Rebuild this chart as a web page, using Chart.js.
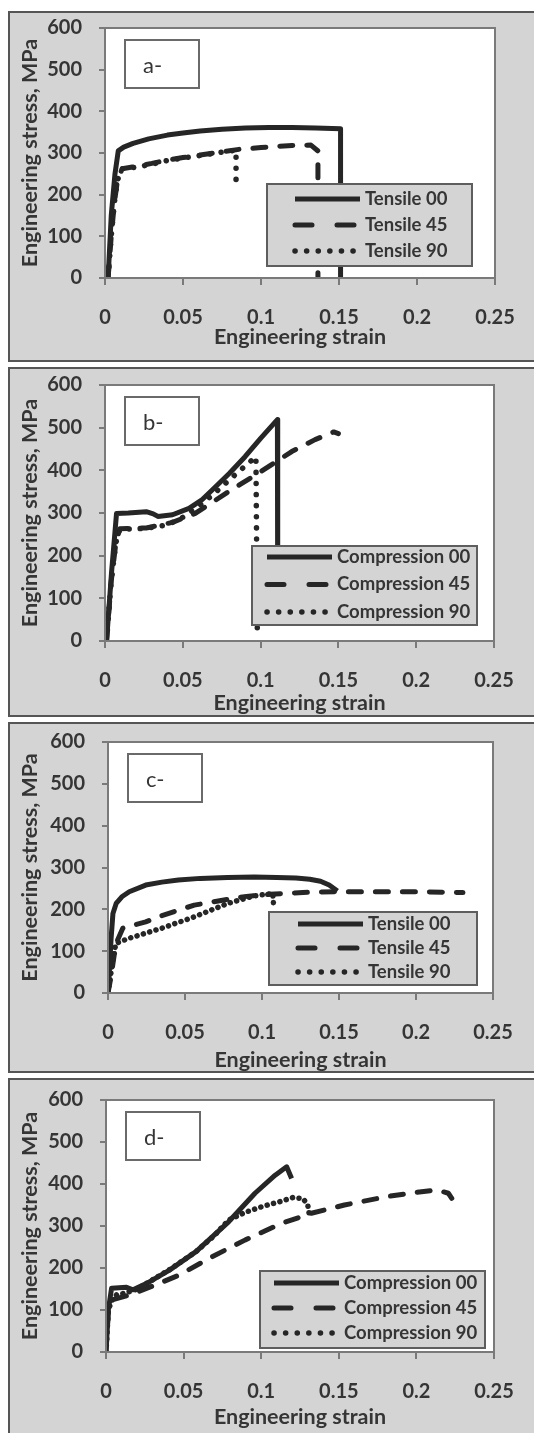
<!DOCTYPE html>
<html>
<head>
<meta charset="utf-8">
<script src="https://cdn.jsdelivr.net/npm/chart.js@4.4.1/dist/chart.umd.min.js"></script>
<style>
  body { margin: 0; width: 534px; height: 1433px; overflow: hidden; position: relative; background: #fff; }
  .panel { position: absolute; left: 8px; width: 540px; background: #d4d4d4; border: 2px solid #555; box-sizing: border-box; }
  .wrap { position: absolute; left: 0; width: 534px; }
</style>
</head>
<body>
<div class="panel" style="top:11px;height:351px"></div>
<div class="panel" style="top:367px;height:350px"></div>
<div class="panel" style="top:722px;height:351px"></div>
<div class="panel" style="top:1078px;height:362px"></div>
<div class="wrap" style="top:11px;height:351px"><canvas id="pa" width="534" height="351"></canvas></div>
<div class="wrap" style="top:367px;height:350px"><canvas id="pb" width="534" height="350"></canvas></div>
<div class="wrap" style="top:722px;height:351px"><canvas id="pc" width="534" height="351"></canvas></div>
<div class="wrap" style="top:1078px;height:355px"><canvas id="pd" width="534" height="355"></canvas></div>
<script>
// ---- data: [strain, stress MPa] ----
const tensileLabels = ['Tensile 00', 'Tensile 45', 'Tensile 90'];
const compressionLabels = ['Compression 00', 'Compression 45', 'Compression 90'];
const panelTags = ['a-', 'b-', 'c-', 'd-'];
const xTickLabels = ['0', '0.05', '0.1', '0.15', '0.2', '0.25'];
const yTickLabels = ['0', '100', '200', '300', '400', '500', '600'];

// a- tensile
const a00 = [[0.002,0],[0.004,150],[0.0064,250],[0.0085,305],[0.012,314],[0.018,323],[0.028,334],[0.04,343],[0.05,348],[0.061,353],[0.075,357],[0.09,360],[0.105,361],[0.12,361],[0.135,360],[0.151,358],[0.151,0]];
const a45 = [[0.002,0],[0.004,100],[0.006,180],[0.008,235],[0.011,262],[0.02,268],[0.03,275],[0.04,283],[0.05,289],[0.061,295],[0.075,303],[0.0865,309],[0.1,313],[0.11,316],[0.12,318],[0.132,319],[0.1365,305],[0.1365,0]];
const a90 = [[0.002,0],[0.004,100],[0.006,180],[0.008,235],[0.011,262],[0.02,266],[0.03,273],[0.04,282],[0.05,288],[0.061,294],[0.075,302],[0.084,307],[0.084,225]];

// b- compression
const b00 = [[0.001,0],[0.0042,161],[0.0064,255],[0.0074,299],[0.015,300],[0.0265,303],[0.031,298],[0.034,292],[0.0434,296],[0.054,311],[0.062,330],[0.0689,354],[0.08,393],[0.09,432],[0.1,475],[0.1108,519],[0.111,60]];
const b45 = [[0.001,0],[0.004,140],[0.007,230],[0.0095,263],[0.0265,265],[0.0434,278],[0.058,299],[0.0794,350],[0.0985,393],[0.12,444],[0.135,472],[0.147,490],[0.15,486]];
const b90 = [[0.001,0],[0.004,140],[0.007,230],[0.0095,262],[0.0265,264],[0.04,272],[0.05,290],[0.06,315],[0.07,345],[0.08,378],[0.09,410],[0.097,432],[0.0979,15]];

// c- tensile
const c00 = [[0,0],[0.001,60],[0.002,130],[0.0032,190],[0.0053,214],[0.009,230],[0.0138,242],[0.0245,258],[0.035,265],[0.0457,270],[0.06,274],[0.0777,276],[0.095,277],[0.1096,276],[0.122,275],[0.131,272],[0.138,267],[0.1436,258],[0.149,244]];
const c45 = [[0,0],[0.002,40],[0.004,90],[0.006,125],[0.0096,155],[0.0245,170],[0.035,185],[0.0457,198],[0.056,210],[0.0777,224],[0.09,231],[0.105,236],[0.131,241],[0.149,242],[0.173,242],[0.205,242],[0.2305,240]];
const c90 = [[0,0],[0.002,50],[0.004,100],[0.0053,119],[0.0138,131],[0.035,155],[0.056,182],[0.0777,214],[0.0947,232],[0.107,238],[0.1075,210]];

// d- compression
const d00 = [[0,0],[0.0015,100],[0.0036,152],[0.0132,154],[0.0174,148],[0.026,163],[0.0409,195],[0.058,239],[0.079,310],[0.096,378],[0.109,421],[0.1164,441],[0.1196,413]];
const d45 = [[0,0],[0.0015,100],[0.005,125],[0.0153,136],[0.03,157],[0.047,183],[0.0685,227],[0.0898,267],[0.113,306],[0.132,330],[0.1536,350],[0.181,370],[0.2,380],[0.213,386],[0.2206,378],[0.2228,366]];
const d90 = [[0,0],[0.0015,100],[0.004,125],[0.0068,136],[0.012,140],[0.02,150],[0.03,172],[0.0409,196],[0.058,239],[0.07,278],[0.079,314],[0.09,333],[0.1004,346],[0.112,358],[0.1207,368],[0.127,365],[0.13,350],[0.1312,322]];

const INK = '#262626';
const TEXT = '#353535';
const AXIS = '#7a7a7a';
const FONT = 'Lato, "Open Sans", sans-serif';
const TITLE_SIZE = 21.5;

// page layout of each panel (canvas top/height, plot rect, x-title centre, legend box)
const panels = [
  { id: 'pa', top: 11,   height: 351, area: [105, 28, 495, 278],     titleY: 337,  labels: tensileLabels,     series: [a00, a45, a90], dot: [0.1, 11],
    legend: { dx: 162, dy: 156, w: 205, h: 82, inset: 28, first: 15, gap: 26 } },
  { id: 'pb', top: 367,  height: 350, area: [105, 385, 494, 641],    titleY: 703,  labels: compressionLabels, series: [b00, b45, b90], dot: [0.1, 11],
    legend: { dx: 147, dy: 161, w: 225, h: 79, inset: 15, first: 11, gap: 27.5 } },
  { id: 'pc', top: 722,  height: 351, area: [108, 742, 493, 993],    titleY: 1060, labels: tensileLabels,     series: [c00, c45, c90], dot: [0.1, 6.5],
    legend: { dx: 161, dy: 170, w: 208, h: 73, inset: 29, first: 12, gap: 24 } },
  { id: 'pd', top: 1078, height: 355, area: [106, 1100, 494, 1352],  titleY: 1417, labels: compressionLabels, series: [d00, d45, d90], dot: [0.1, 6.5],
    legend: { dx: 154, dy: 171, w: 225, h: 77, inset: 14, first: 12, gap: 25 } }
];

// white plot area, frame, tag box and in-plot legend
const framePlugin = {
  id: 'frame',
  beforeDraw(chart) {
    const { ctx, chartArea: a } = chart;
    ctx.save();
    ctx.fillStyle = '#fff';
    ctx.fillRect(a.left, a.top, a.right - a.left, a.bottom - a.top);
    ctx.restore();
  },
  afterDraw(chart, args, o) {
    const { ctx, chartArea: a } = chart;
    ctx.save();
    ctx.strokeStyle = AXIS;
    ctx.lineWidth = 2;
    ctx.strokeRect(a.left, a.top, a.right - a.left, a.bottom - a.top);

    // panel tag
    const tx = a.left + 20, ty = a.top + 12;
    ctx.fillStyle = '#fff';
    ctx.fillRect(tx, ty, 74, 48);
    ctx.strokeStyle = '#6a6a6a';
    ctx.strokeRect(tx, ty, 74, 48);
    ctx.fillStyle = TEXT;
    ctx.font = '22px ' + FONT;
    ctx.textBaseline = 'middle';
    ctx.fillText(o.tag, tx + 18, ty + 26);

    // legend
    const L = o.legend;
    const x0 = a.left + L.dx, y0 = a.top + L.dy;
    ctx.fillStyle = '#d4d4d4';
    ctx.fillRect(x0, y0, L.w, L.h);
    ctx.strokeStyle = '#5e5e5e';
    ctx.lineWidth = 2;
    ctx.strokeRect(x0, y0, L.w, L.h);
    chart.data.datasets.forEach((ds, i) => {
      const y = y0 + L.first + i * L.gap;
      ctx.beginPath();
      ctx.setLineDash(ds.legendDash);
      ctx.lineCap = ds.borderCapStyle;
      ctx.lineWidth = ds.borderWidth;
      ctx.strokeStyle = ds.borderColor;
      ctx.moveTo(x0 + L.inset, y);
      ctx.lineTo(x0 + L.inset + 65, y);
      ctx.stroke();
      ctx.setLineDash([]);
      ctx.fillStyle = TEXT;
      ctx.font = 'bold 18.5px ' + FONT;
      ctx.textBaseline = 'middle';
      ctx.fillText(ds.label, x0 + L.inset + 70, y);
    });
    ctx.restore();
  }
};

function makeSets(p) {
  const dashes = [[], [13, 14], p.dot];
  const legendDashes = [[], [17, 25], [0.1, 11.5]];
  const widths = [5, 5, 5.5];
  return p.series.map((pts, i) => ({
    label: p.labels[i],
    data: pts,
    borderColor: INK,
    borderWidth: widths[i],
    borderDash: dashes[i],
    legendDash: legendDashes[i],
    borderCapStyle: i === 0 ? 'butt' : 'round',
    borderJoinStyle: 'round',
    pointRadius: 0,
    pointHoverRadius: 0,
    showLine: true,
    fill: false,
    tension: 0
  }));
}

panels.forEach((p, k) => {
  const [l, t, r, b] = p.area;
  const titleHalf = TITLE_SIZE * 1.2 / 2;
  const xAxisH = p.titleY + titleHalf - b;
  new Chart(document.getElementById(p.id), {
    type: 'scatter',
    data: { datasets: makeSets(p) },
    plugins: [framePlugin],
    options: {
      responsive: false,
      animation: false,
      layout: {
        padding: { left: 0, top: t - p.top, right: 534 - r, bottom: p.top + p.height - (p.titleY + titleHalf) }
      },
      plugins: {
        legend: { display: false },
        tooltip: { enabled: false },
        frame: { tag: panelTags[k], legend: p.legend }
      },
      scales: {
        x: {
          type: 'linear',
          min: 0,
          max: 0.25,
          afterFit: s => { s.height = xAxisH; s.paddingLeft = 0; s.paddingRight = 0; },
          ticks: {
            stepSize: 0.05,
            padding: 21,
            color: TEXT,
            font: { family: FONT, size: 20, weight: 'bold' },
            callback: (v, i) => xTickLabels[i]
          },
          grid: { drawOnChartArea: false, drawTicks: true, tickLength: 7, tickColor: AXIS, lineWidth: 2 },
          border: { display: true, color: AXIS, width: 2 },
          title: {
            display: true,
            text: 'Engineering strain',
            color: TEXT,
            padding: 0,
            font: { family: FONT, size: TITLE_SIZE, weight: 'bold' }
          }
        },
        y: {
          type: 'linear',
          min: 0,
          max: 600,
          afterFit: s => { s.width = l; s.paddingTop = 0; s.paddingBottom = 0; },
          ticks: {
            stepSize: 100,
            padding: 17,
            color: TEXT,
            font: { family: FONT, size: 20, weight: 'bold' },
            callback: (v, i) => yTickLabels[i]
          },
          grid: { drawOnChartArea: false, drawTicks: true, tickLength: 6, tickColor: AXIS, lineWidth: 2 },
          border: { display: true, color: AXIS, width: 2 },
          title: {
            display: true,
            text: 'Engineering stress, MPa',
            color: TEXT,
            padding: { top: 17, bottom: 0 },
            font: { family: FONT, size: TITLE_SIZE, weight: 'bold' }
          }
        }
      }
    }
  });
});
</script>
</body>
</html>
